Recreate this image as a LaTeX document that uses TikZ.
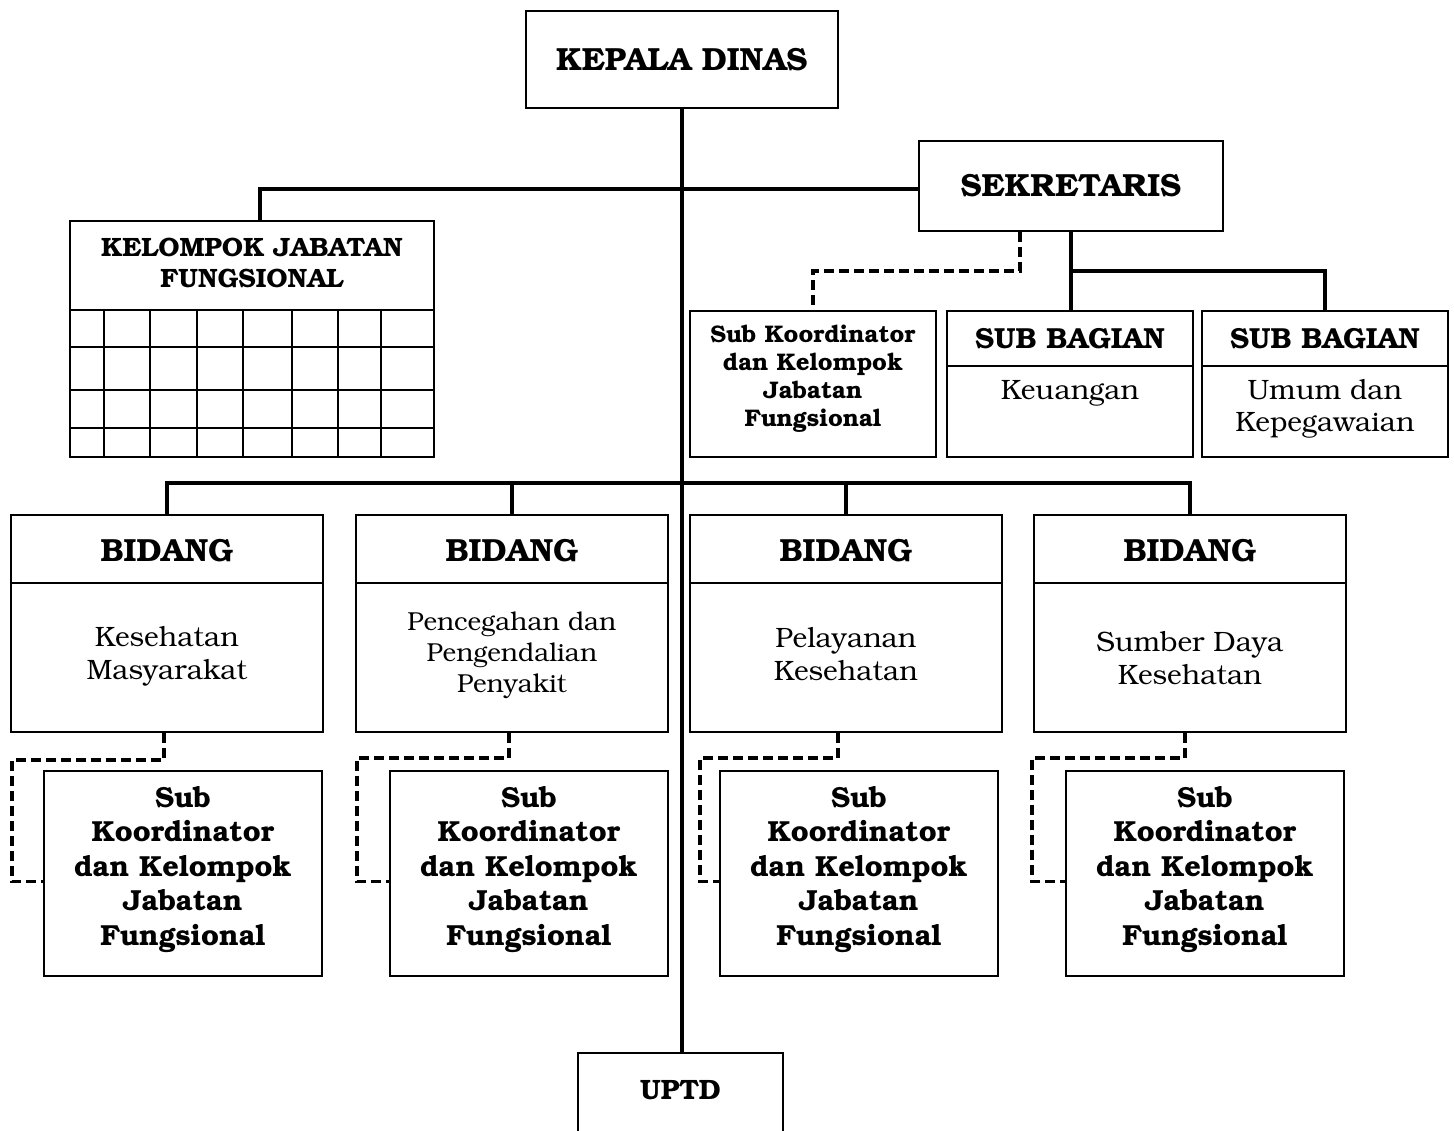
\documentclass[tikz,border=0pt]{standalone}
\usepackage[T1]{fontenc}
\usepackage{bookman}
\newcommand\myfs[2]{\fontsize{#1}{#2}\selectfont}
\begin{document}
\begin{tikzpicture}[x=1pt,y=-1pt,
  bx/.style={draw, line width=1.8pt, inner sep=0pt, anchor=north west},
  lbl/.style={align=center, inner sep=0pt},
  conn/.style={line width=4pt},
  dconn/.style={line width=3.6pt, dash pattern=on 10pt off 5pt},
  divl/.style={line width=1.8pt},
  gridl/.style={line width=1.3pt},
  ttl/.style={lbl, font=\bfseries\myfs{32}{36}},
  subttl/.style={lbl, font=\bfseries\myfs{29}{34}},
  body/.style={lbl, font=\myfs{28}{33}},
  bodysm/.style={lbl, font=\myfs{26}{31}},
  skbig/.style={lbl, font=\bfseries\myfs{29}{34.5}},
  bidang/.style={bx, minimum width=312pt, minimum height=217pt},
  subk/.style={bx, minimum width=278pt, minimum height=205pt},
  sbag/.style={bx, minimum width=246pt, minimum height=146pt}
]
\useasboundingbox (0,0) rectangle (1454,1130);

% ---------- boxes ----------
\node[bx, minimum width=312pt, minimum height=97pt] (kd) at (525,10) {};
\node[ttl] (kdt) at (kd.center) {KEPALA DINAS};

\node[bx, minimum width=304pt, minimum height=90pt] (sek) at (918,140) {};
\node[ttl] (sekt) at (sek.center) {SEKRETARIS};

\node[bx, minimum width=364pt, minimum height=236pt] (kjf) at (69,220) {};
\node[lbl, font=\bfseries\myfs{26.5}{31}] (kjft) at ([yshift=-42.5pt]kjf.north) {KELOMPOK JABATAN\\FUNGSIONAL};
\draw[divl] ([yshift=-90pt]kjf.north west) -- ([yshift=-90pt]kjf.north east);
\foreach \r in {127,170,208}
  \draw[gridl] ([yshift=-\r pt]kjf.north west) -- ([yshift=-\r pt]kjf.north east);
\foreach \c in {35,81,128,174,223,269,312}
  \draw[gridl] ([xshift=\c pt]kjf.south west) -- ([xshift=\c pt, yshift=-90pt]kjf.north west);

\node[sbag] (skj) at (689,310) {};
\node[lbl, font=\bfseries\myfs{24}{28}] (skjt) at ([yshift=5pt]skj.center) {Sub Koordinator\\dan Kelompok\\Jabatan\\Fungsional};

\node[sbag] (sbk) at (946,310) {};
\draw[divl] ([yshift=-56pt]sbk.north west) -- ([yshift=-56pt]sbk.north east);
\node[subttl] (sbkt) at ([yshift=-29pt]sbk.north) {SUB BAGIAN};
\node[body] (sbkb) at ([yshift=-83pt]sbk.north) {Keuangan};

\node[sbag] (sbu) at (1201,310) {};
\draw[divl] ([yshift=-56pt]sbu.north west) -- ([yshift=-56pt]sbu.north east);
\node[subttl] (sbut) at ([yshift=-29pt]sbu.north) {SUB BAGIAN};
\node[lbl, font=\myfs{28}{32}] (sbub) at ([yshift=-99pt]sbu.north) {Umum dan\\Kepegawaian};

% bidang
\node[bidang] (b1) at (10,514) {};
\node[bidang] (b2) at (355,514) {};
\node[bidang] (b3) at (689,514) {};
\node[bidang] (b4) at (1033,514) {};
\foreach \b in {b1,b2,b3,b4}{
  \draw[divl] ([yshift=-69pt]\b.north west) -- ([yshift=-69pt]\b.north east);
  \node[ttl] (\b t) at ([yshift=-37pt]\b.north) {BIDANG};
}
\node[body] (b1b) at ([yshift=-142pt]b1.north) {Kesehatan\\Masyarakat};
\node[bodysm] (b2b) at ([yshift=-141pt]b2.north) {Pencegahan dan\\Pengendalian\\Penyakit};
\node[body] (b3b) at ([yshift=-140pt]b3.north) {Pelayanan\\Kesehatan};
\node[body] (b4b) at ([yshift=-144pt]b4.north) {Sumber Daya\\Kesehatan};

% sub koordinator boxes
\node[subk] (s1) at (43,770) {};
\node[subk] (s2) at (389,770) {};
\node[subk] (s3) at (719,770) {};
\node[subk] (s4) at (1065,770) {};
\foreach \s in {s1,s2,s3,s4}
  \node[skbig] (\s t) at ([yshift=4pt]\s.center) {Sub\\Koordinator\\dan Kelompok\\Jabatan\\Fungsional};

\node[bx, minimum width=205pt, minimum height=90pt] (uptd) at (577,1052) {};
\node[lbl, font=\bfseries\myfs{28}{32}] (uptdt) at ([yshift=-38pt]uptd.north) {UPTD};

% ---------- connectors ----------
\draw[conn] (kd.south) -- (kd.south |- uptd.north);
\draw[conn] ([yshift=-3pt]sek.west) -| ([xshift=8pt]kjf.north);
\draw[dconn] ([xshift=-51pt]sek.south) -- ++(0,39) -| (skj.north);
\draw[conn] (sek.south) -- (sek.south |- sbk.north);
\draw[conn] (sek.south) ++(0,39) -| (sbu.north);
\draw[conn] (b1.north) -- ++(0,-31) -| (b4.north);
\draw[conn] (b2.north) -- ++(0,-31);
\draw[conn] (b3.north) -- ++(0,-31);

\draw[dconn] ([xshift=-3pt]b1.south) -- ++(0,27) -- ++(-152,0) |- ([yshift=-8pt]s1.west);
\draw[dconn] ([xshift=-3pt]b2.south) -- ++(0,25) -- ++(-152,0) |- ([yshift=-8pt]s2.west);
\draw[dconn] ([xshift=-8pt]b3.south) -- ++(0,25) -- ++(-138,0) |- ([yshift=-8pt]s3.west);
\draw[dconn] ([xshift=-5pt]b4.south) -- ++(0,25) -- ++(-153,0) |- ([yshift=-8pt]s4.west);
\end{tikzpicture}
\end{document}
